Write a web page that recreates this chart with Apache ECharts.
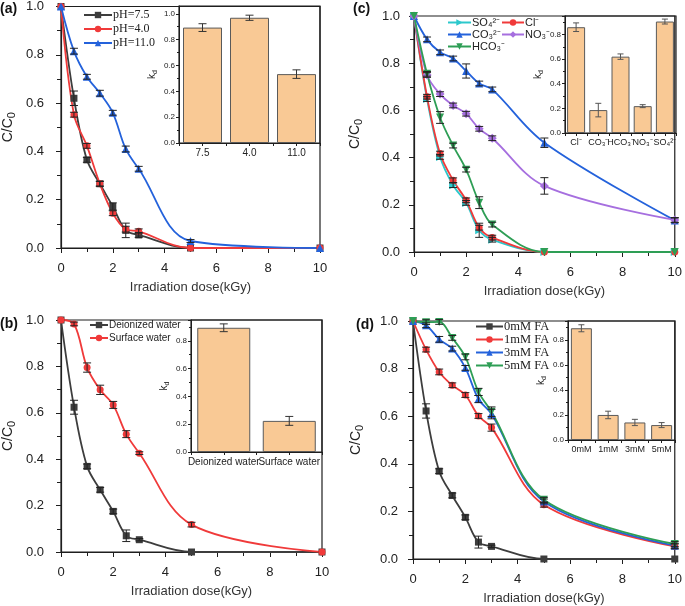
<!DOCTYPE html>
<html><head><meta charset="utf-8">
<script src="https://cdn.jsdelivr.net/npm/echarts@6/dist/echarts.min.js"></script>
<style>html,body{margin:0;padding:0;background:#fff}#c{width:685px;height:606px}</style>
</head><body><div id="c"></div>
<script>
const SANS = 'Liberation Sans, Arial, sans-serif';
const SERIF = 'Liberation Serif, Times New Roman, serif';

// shared x values (kGy)
const dose = [0, 0.5, 1, 1.5, 2, 2.5, 3, 5, 10];

// (a) pH
const aPH75 = [1.0, 0.62, 0.365, 0.266, 0.172, 0.073, 0.054, 0, 0];
const aPH75Err = [0, 0.03, 0.01, 0.01, 0.015, 0.03, 0.01, 0, 0];
const aPH40 = [1.0, 0.552, 0.423, 0.266, 0.144, 0.078, 0.069, 0, 0];
const aPH40Err = [0, 0.01, 0.01, 0.01, 0.01, 0.012, 0.01, 0, 0];
const aPH110 = [1.0, 0.815, 0.709, 0.641, 0.56, 0.41, 0.328, 0.029, 0];
const aPH110Err = [0, 0.012, 0.01, 0.012, 0.01, 0.012, 0.01, 0.006, 0];
const aKdCats = ['7.5', '4.0', '11.0'];
const aKd = [0.893, 0.969, 0.533];
const aKdErr = [0.03, 0.02, 0.033];

// (b) water matrix
const bDI = [1.0, 0.624, 0.369, 0.268, 0.175, 0.07, 0.053, 0, 0];
const bDIErr = [0, 0.03, 0.01, 0.01, 0.01, 0.025, 0.005, 0, 0];
const bSW = [1.0, 0.983, 0.795, 0.699, 0.634, 0.508, 0.426, 0.118, 0];
const bSWErr = [0, 0.008, 0.02, 0.02, 0.015, 0.015, 0.006, 0.01, 0];
const bKdCats = ['Deionized water', 'Surface water'];
const bKd = [0.894, 0.224];
const bKdErr = [0.028, 0.032];

// (c) anions
const cSO4 = [1.0, 0.648, 0.403, 0.283, 0.208, 0.092, 0.052, 0, 0];
const cSO4Err = [0, 0.01, 0.01, 0.01, 0.01, 0.03, 0.01, 0, 0];
const cCl = [1.0, 0.658, 0.417, 0.304, 0.219, 0.103, 0.061, 0, 0];
const cClErr = [0, 0.01, 0.01, 0.01, 0.01, 0.01, 0.01, 0, 0];
const cCO3 = [1.0, 0.901, 0.846, 0.82, 0.767, 0.714, 0.689, 0.463, 0.134];
const cCO3Err = [0, 0.01, 0.01, 0.01, 0.03, 0.01, 0.01, 0.02, 0.01];
const cNO3 = [1.0, 0.75, 0.669, 0.621, 0.586, 0.522, 0.482, 0.28, 0.136];
const cNO3Err = [0, 0.01, 0.01, 0.01, 0.01, 0.01, 0.01, 0.035, 0.01];
const cHCO3 = [1.0, 0.755, 0.57, 0.451, 0.349, 0.209, 0.116, 0, 0];
const cHCO3Err = [0, 0.01, 0.025, 0.01, 0.01, 0.025, 0.01, 0, 0];
const cKdCats = ['Cl⁻', 'CO₃⁻', 'HCO₃⁻', 'NO₃⁻', 'SO₄²⁻'];
const cKd = [0.859, 0.186, 0.62, 0.218, 0.905];
const cKdErr = [0.035, 0.055, 0.022, 0.012, 0.02];

// (d) fulvic acid
const dFA0 = [1.0, 0.622, 0.369, 0.267, 0.175, 0.071, 0.053, 0, 0];
const dFA0Err = [0, 0.03, 0.01, 0.01, 0.01, 0.025, 0.005, 0, 0];
const dFA1 = [1.0, 0.88, 0.786, 0.73, 0.689, 0.601, 0.552, 0.228, 0.053];
const dFA1Err = [0, 0.01, 0.012, 0.01, 0.01, 0.01, 0.015, 0.01, 0.01];
const dFA3 = [1.0, 0.982, 0.923, 0.884, 0.803, 0.672, 0.609, 0.242, 0.056];
const dFA3Err = [0, 0.01, 0.012, 0.01, 0.01, 0.015, 0.02, 0.01, 0.01];
const dFA5 = [1.0, 0.995, 0.996, 0.929, 0.849, 0.702, 0.619, 0.249, 0.063];
const dFA5Err = [0, 0.01, 0.01, 0.01, 0.012, 0.015, 0.02, 0.01, 0.01];
const dKdCats = ['0mM', '1mM', '3mM', '5mM'];
const dKd = [0.892, 0.2, 0.14, 0.119];
const dKdErr = [0.028, 0.03, 0.025, 0.02];

const C = {k:'#3d3d3d', r:'#f03a3a', b:'#2462db', g:'#2e9e55', c:'#2cc8cc', p:'#a66fdf', bar:'#f9c995', edge:'#5a5a5a'};
const AX = '#1e1e1e';
const downTri = 'path://M0,0 L10,0 L5,9 Z';

const grids = [
  {left:61, top:6, width:259, height:242},    // a
  {left:60, top:320, width:262, height:232},  // b
  {left:414, top:16, width:263, height:236},  // c
  {left:413, top:321, width:262, height:238}, // d
  {left:179, top:6, width:141, height:137},   // inset a
  {left:191, top:320, width:131, height:132}, // inset b
  {left:565, top:16, width:111, height:117},  // inset c
  {left:568, top:321, width:107, height:119}  // inset d
].map(g => Object.assign({show:true, borderColor:AX, borderWidth:1.2, backgroundColor:'rgba(255,255,255,0)'}, g));

function mainX(gi){
  return {type:'value', gridIndex:gi, min:0, max:10, interval:2,
    axisLine:{show:true, lineStyle:{color:AX, width:1.2}},
    axisTick:{show:true, length:5, lineStyle:{color:AX}},
    minorTick:{show:true, splitNumber:2, length:4, lineStyle:{color:AX}},
    splitLine:{show:false},
    axisLabel:{fontSize:13, color:'#222', margin:14, fontFamily:SANS},
    name:'Irradiation dose(kGy)', nameLocation:'middle', nameGap:33,
    nameTextStyle:{fontSize:13, color:'#333', fontFamily:SANS}};
}
function mainY(gi, margin, gap){
  return {type:'value', gridIndex:gi, min:0, max:1, interval:0.2,
    axisLine:{show:true, lineStyle:{color:AX, width:1.2}},
    axisTick:{show:true, length:5, lineStyle:{color:AX}},
    minorTick:{show:true, splitNumber:2, length:4, lineStyle:{color:AX}},
    splitLine:{show:false},
    axisLabel:{fontSize:13, color:'#222', margin:margin, fontFamily:SANS, formatter:v=>v.toFixed(1)},
    name:'{m|C/C}{s|0}', nameLocation:'middle', nameGap:gap, nameRotate:90,
    nameTextStyle:{rich:{m:{fontSize:14, fontFamily:SANS, color:'#222', lineHeight:18}, s:{fontSize:11, fontFamily:SANS, color:'#222', verticalAlign:'bottom'}}}};
}
function insetX(gi, cats, fs){
  return {type:'value', gridIndex:gi, min:0.5, max:cats.length+0.5, interval:0.5,
    axisLine:{show:true, lineStyle:{color:AX, width:1}},
    axisTick:{show:true, length:3, lineStyle:{color:AX}},
    splitLine:{show:false},
    axisLabel:{fontSize:fs, color:'#222', margin:5, fontFamily:SANS, showMinLabel:true, showMaxLabel:true,
      formatter:v => (Math.abs(v-Math.round(v))<1e-6 && v>=1 && v<=cats.length) ? cats[Math.round(v)-1] : ''}};
}
function insetY(gi, max, gap){
  return {type:'value', gridIndex:gi, min:0, max:max, interval:0.2,
    axisLine:{show:true, lineStyle:{color:AX, width:1}},
    axisTick:{show:true, length:3, lineStyle:{color:AX}},
    minorTick:{show:true, splitNumber:2, length:2, lineStyle:{color:AX}},
    splitLine:{show:false},
    axisLabel:{fontSize:8, color:'#222', margin:4, fontFamily:SANS, showMaxLabel:false, formatter:v=>v.toFixed(1)},
    name:'{k|k}{d|d}', nameLocation:'middle', nameGap:gap, nameRotate:90,
    nameTextStyle:{rich:{k:{fontSize:10, fontFamily:SANS, color:'#222', lineHeight:13}, d:{fontSize:7, fontFamily:SANS, color:'#222', verticalAlign:'bottom'}}}};
}

function line(name, ys, color, symbol, gi, opts){
  return Object.assign({type:'line', name, xAxisIndex:gi, yAxisIndex:gi,
    data: dose.map((x,i)=>[x, ys[i]]), smooth:0.35,
    symbol, symbolSize:7, showAllSymbol:true,
    itemStyle:{color}, lineStyle:{color, width:1.8}, z:3, animation:false}, opts||{});
}
function errRender(capHalf, color, width){
  return function(params, api){
    const x = api.value(0), y = api.value(1), e = api.value(2);
    if (!e) return null;
    const hi = api.coord([x, y+e]), lo = api.coord([x, y-e]);
    const st = {stroke:color, lineWidth:width};
    return {type:'group', children:[
      {type:'line', shape:{x1:hi[0], y1:hi[1], x2:lo[0], y2:lo[1]}, style:st},
      {type:'line', shape:{x1:hi[0]-capHalf, y1:hi[1], x2:hi[0]+capHalf, y2:hi[1]}, style:st},
      {type:'line', shape:{x1:lo[0]-capHalf, y1:lo[1], x2:lo[0]+capHalf, y2:lo[1]}, style:st}
    ]};
  };
}
function err(xs, ys, es, gi, capHalf, color, width){
  return {type:'custom', xAxisIndex:gi, yAxisIndex:gi, z:5, animation:false, clip:false,
    renderItem: errRender(capHalf||4, color||'#222', width||1),
    encode:{x:0, y:1},
    data: xs.map((x,i)=>[x, ys[i], es[i]])};
}
function bars(vals, gi, bw){
  return {type:'bar', xAxisIndex:gi, yAxisIndex:gi, barWidth:bw, animation:false,
    data: vals.map((v,i)=>[i+1, v]),
    itemStyle:{color:C.bar, borderColor:C.edge, borderWidth:1}};
}
const idx = arr => arr.map((_,i)=>i+1);

const series = [
  // (a)
  line('pH=7.5', aPH75, C.k, 'rect', 0),
  line('pH=4.0', aPH40, C.r, 'circle', 0),
  line('pH=11.0', aPH110, C.b, 'triangle', 0, {symbolSize:8}),
  err(dose, aPH75, aPH75Err, 0), err(dose, aPH40, aPH40Err, 0), err(dose, aPH110, aPH110Err, 0),
  // (b)
  line('Deionized water', bDI, C.k, 'rect', 1),
  line('Surface water', bSW, C.r, 'circle', 1),
  err(dose, bDI, bDIErr, 1), err(dose, bSW, bSWErr, 1),
  // (c)
  line('SO₄²⁻', cSO4, C.c, 'triangle', 2, {symbolRotate:-90, symbolSize:8}),
  line('Cl⁻', cCl, C.r, 'circle', 2),
  line('CO₃²⁻', cCO3, C.b, 'triangle', 2, {symbolSize:8}),
  line('NO₃⁻', cNO3, C.p, 'diamond', 2, {symbolSize:9}),
  line('HCO₃⁻', cHCO3, C.g, downTri, 2, {symbolSize:8}),
  err(dose, cSO4, cSO4Err, 2), err(dose, cCl, cClErr, 2), err(dose, cCO3, cCO3Err, 2),
  err(dose, cNO3, cNO3Err, 2), err(dose, cHCO3, cHCO3Err, 2),
  // (d)
  line('0mM FA', dFA0, C.k, 'rect', 3),
  line('1mM FA', dFA1, C.r, 'circle', 3),
  line('3mM FA', dFA3, C.b, 'triangle', 3, {symbolSize:8}),
  line('5mM FA', dFA5, C.g, downTri, 3, {symbolSize:8}),
  err(dose, dFA0, dFA0Err, 3), err(dose, dFA1, dFA1Err, 3), err(dose, dFA3, dFA3Err, 3), err(dose, dFA5, dFA5Err, 3),
  // insets
  bars(aKd, 4, 39), err(idx(aKd), aKd, aKdErr, 4, 4, '#333'),
  bars(bKd, 5, 53), err(idx(bKd), bKd, bKdErr, 5, 4, '#333'),
  bars(cKd, 6, 18), err(idx(cKd), cKd, cKdErr, 6, 3, '#555'),
  bars(dKd, 7, 21), err(idx(dKd), dKd, dKdErr, 7, 3, '#555')
];

function legend(names, left, top, iw, font, fs, gap){
  return {data:names, orient:'vertical', left, top, itemWidth:iw, itemHeight:8, itemGap:gap,
    selectedMode:false, padding:0,
    textStyle:{fontFamily:font, fontSize:fs, color:'#222', padding:[0,0,0,-4]}};
}

const option = {
  animation:false,
  grid: grids,
  xAxis: [mainX(0), mainX(1), mainX(2), mainX(3),
          insetX(4, aKdCats, 10), insetX(5, bKdCats, 10), insetX(6, cKdCats, 9), insetX(7, dKdCats, 9)],
  yAxis: [mainY(0, 17, 44), mainY(1, 17, 44), mainY(2, 14, 50), mainY(3, 15, 48),
          insetY(4, 1.06, 20), insetY(5, 0.95, 20), insetY(6, 0.95, 20), insetY(7, 0.95, 20)],
  legend: [
    legend(['pH=7.5','pH=4.0','pH=11.0'], 83, 9, 28, SERIF, 12, 2),
    legend(['Deionized water','Surface water'], 89, 320, 18, SANS, 10, 3),
    legend(['SO₄²⁻','CO₃²⁻','HCO₃⁻'], 447, 17, 23, SANS, 11, 1),
    legend(['Cl⁻','NO₃⁻'], 501, 17, 22, SANS, 11, 1),
    legend(['0mM FA','1mM FA','3mM FA','5mM FA'], 475, 320, 27, SERIF, 12.5, 0)
  ],
  graphic: [
    {type:'text', left:0, top:2, style:{text:'(a)', font:'bold 14px Liberation Sans', fill:'#111'}},
    {type:'text', left:0, top:317, style:{text:'(b)', font:'bold 14px Liberation Sans', fill:'#111'}},
    {type:'text', left:353, top:2, style:{text:'(c)', font:'bold 14px Liberation Sans', fill:'#111'}},
    {type:'text', left:356, top:318, style:{text:'(d)', font:'bold 14px Liberation Sans', fill:'#111'}}
  ],
  series
};
const chart = echarts.init(document.getElementById('c'), null, {renderer:'canvas'});
chart.setOption(option);
</script></body></html>
